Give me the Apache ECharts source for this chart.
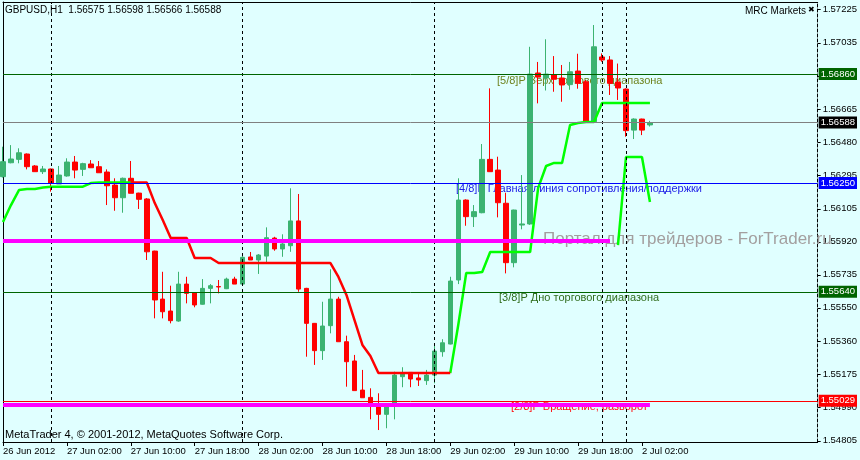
<!DOCTYPE html>
<html>
<head>
<meta charset="utf-8">
<script src="https://cdn.jsdelivr.net/npm/echarts@6/dist/echarts.min.js"></script>
<style>
  html, body { margin: 0; padding: 0; background: #e0ffff; }
  #chart { width: 860px; height: 460px; }
</style>
</head>
<body>
<div id="chart"></div>
<script>
// GBPUSD H1, 26 Jun 2012 18:00 .. 2 Jul 2012 03:00 (82 bars)
const opens = [
  1.56285, 1.56363, 1.56382, 1.56412, 1.56345, 1.56313, 1.56328, 1.56244, 1.56289, 1.56367,
  1.56326, 1.56356, 1.56341, 1.56311, 1.56238, 1.56167, 1.56276, 1.56193, 1.56160, 1.55868,
  1.55599, 1.55532, 1.55476, 1.55683, 1.55635, 1.55570, 1.55659, 1.55669, 1.55657, 1.55711,
  1.55683, 1.55835, 1.55818, 1.55840, 1.55941, 1.55880, 1.55898, 1.56037, 1.55659, 1.55463,
  1.55310, 1.55450, 1.55599, 1.55360, 1.55252, 1.55089, 1.55048, 1.55005, 1.54953, 1.55001,
  1.55164, 1.55188, 1.55157, 1.55142, 1.55173, 1.55304, 1.55347, 1.55706, 1.56154, 1.56061,
  1.56083, 1.56382, 1.56322, 1.56136, 1.55803, 1.56014, 1.56020, 1.56866, 1.56838, 1.56855,
  1.56838, 1.56801, 1.56877, 1.56817, 1.56593, 1.56956, 1.56939, 1.56815, 1.56776, 1.56546,
  1.56608, 1.56575
];
const closes = [
  1.56369, 1.56384, 1.56419, 1.56341, 1.56313, 1.56328, 1.56248, 1.56294, 1.56367, 1.56322,
  1.56358, 1.56335, 1.56307, 1.56234, 1.56167, 1.56276, 1.56192, 1.56158, 1.55864, 1.55594,
  1.55528, 1.55478, 1.55683, 1.55631, 1.55566, 1.55659, 1.55674, 1.55667, 1.55711, 1.55683,
  1.55833, 1.55818, 1.55846, 1.55943, 1.55880, 1.55908, 1.56037, 1.55655, 1.55463, 1.55310,
  1.55448, 1.55599, 1.55360, 1.55248, 1.55086, 1.55046, 1.55001, 1.54953, 1.55001, 1.55173,
  1.55179, 1.55151, 1.55146, 1.55173, 1.55308, 1.55354, 1.55700, 1.56154, 1.56061, 1.56089,
  1.56382, 1.56313, 1.56139, 1.55803, 1.56098, 1.56020, 1.56860, 1.56843, 1.56860, 1.56831,
  1.56799, 1.56873, 1.56808, 1.56593, 1.57013, 1.56939, 1.56808, 1.56782, 1.56543, 1.56608,
  1.56546, 1.56588
];
const lows = [
  1.56280, 1.56360, 1.56360, 1.56326, 1.56313, 1.56300, 1.56201, 1.56244, 1.56285, 1.56276,
  1.56289, 1.56335, 1.56307, 1.56126, 1.56094, 1.56083, 1.56192, 1.56104, 1.55818, 1.55491,
  1.55491, 1.55463, 1.55472, 1.55575, 1.55553, 1.55568, 1.55575, 1.55631, 1.55655, 1.55683,
  1.55680, 1.55818, 1.55740, 1.55803, 1.55870, 1.55836, 1.55864, 1.55640, 1.55276, 1.55230,
  1.55258, 1.55407, 1.55360, 1.55108, 1.55086, 1.55046, 1.54925, 1.54865, 1.54875, 1.54925,
  1.55105, 1.55105, 1.55112, 1.55118, 1.55127, 1.55276, 1.55345, 1.55683, 1.56010, 1.56003,
  1.56080, 1.56313, 1.56057, 1.55743, 1.55777, 1.55990, 1.56015, 1.56696, 1.56768, 1.56761,
  1.56705, 1.56772, 1.56778, 1.56590, 1.56590, 1.56929, 1.56743, 1.56715, 1.56509, 1.56496,
  1.56518, 1.56566
];
const highs = [
  1.56453, 1.56462, 1.56444, 1.56415, 1.56350, 1.56345, 1.56330, 1.56345, 1.56388, 1.56401,
  1.56363, 1.56378, 1.56373, 1.56326, 1.56276, 1.56280, 1.56373, 1.56195, 1.56165, 1.55870,
  1.55752, 1.55674, 1.55752, 1.55724, 1.55638, 1.55711, 1.55683, 1.55706, 1.55719, 1.55724,
  1.55856, 1.55863, 1.55851, 1.56001, 1.55948, 1.55962, 1.56220, 1.56188, 1.55662, 1.55465,
  1.55584, 1.55766, 1.55612, 1.55394, 1.55286, 1.55202, 1.55099, 1.55071, 1.55005, 1.55192,
  1.55217, 1.55190, 1.55188, 1.55202, 1.55351, 1.55374, 1.55724, 1.56276, 1.56158, 1.56126,
  1.56468, 1.56780, 1.56397, 1.56195, 1.56100, 1.56294, 1.57013, 1.56928, 1.57055, 1.56961,
  1.56911, 1.56928, 1.56974, 1.56827, 1.57135, 1.56976, 1.56961, 1.56919, 1.56780, 1.56612,
  1.56610, 1.56598
];

// trailing indicator: green (bars 0..16), red (16..56), green (56..81), second green (77..81)
const greenHead = [
  1.56031, 1.56126, 1.56210, 1.56216, 1.56216, 1.56224, 1.56229, 1.56229, 1.56229, 1.56229,
  1.56229, 1.56249, 1.56252, 1.56252, 1.56252, 1.56252, 1.56252
];
const redTrail = [
  1.56252, 1.56252, 1.56252, 1.56137, 1.56042, 1.55941, 1.55941, 1.55941, 1.55829, 1.55829,
  1.55829, 1.55801, 1.55801, 1.55801, 1.55801, 1.55801, 1.55801, 1.55801, 1.55801, 1.55801,
  1.55801, 1.55801, 1.55801, 1.55801, 1.55801, 1.55801, 1.55723, 1.55622, 1.55482, 1.55342,
  1.55280, 1.55185, 1.55185, 1.55185, 1.55185, 1.55185, 1.55185, 1.55185, 1.55185, 1.55185,
  1.55185
];
const greenTail = [
  1.55185, 1.55454, 1.55745, 1.55745, 1.55751, 1.55863, 1.55863, 1.55863, 1.55863, 1.55863,
  1.55863, 1.56221, 1.56345, 1.56362, 1.56362, 1.56575, 1.56586, 1.56591, 1.56591, 1.56698,
  1.56698, 1.56698, 1.56698, 1.56698, 1.56698, 1.56698
];
const greenLow = [1.55902, 1.56395, 1.56395, 1.56395, 1.56143];
const redStart = 16, greenTailStart = 56, greenLowStart = 77;

// Murrey levels and other horizontal lines
const mmLevels = [1.56860, 1.56250, 1.55640, 1.55029];
const mmNames = [
  '[5/8]P Верх торгового диапазона',
  '[4/8]P Главная линия сопротивления/поддержки',
  '[3/8]P Дно торгового диапазона',
  '[2/8]P Вращение, разворот'
];
const bidPrice = 1.56588;
const magentaLevels = [1.55928, 1.55009];
const magentaEndBar = [76, 81];
const separatorBars = [6, 30, 54, 75, 78];

// axis labels
const priceTicks = [1.57225, 1.57035, 1.56850, 1.56665, 1.56480, 1.56295, 1.56105,
  1.55920, 1.55735, 1.55550, 1.55360, 1.55175, 1.54990, 1.54805];
const timeLabels = ['26 Jun 2012', '27 Jun 02:00', '27 Jun 10:00', '27 Jun 18:00',
  '28 Jun 02:00', '28 Jun 10:00', '28 Jun 18:00', '29 Jun 02:00', '29 Jun 10:00',
  '29 Jun 18:00', '2 Jul 02:00'];
const LABEL_STEP = 8;
const SLOTS = 103; // bars plus empty space on the right

const FONT = '"Liberation Sans", Arial, sans-serif';
const Y_MIN = 1.54798, Y_MAX = 1.57264;

const cats = Array.from({ length: SLOTS }, (_, i) => String(i));
function place(start, vals) {
  const a = new Array(SLOTS).fill(null);
  vals.forEach((v, k) => { a[start + k] = v; });
  return a;
}
const greenMain = place(0, greenHead);
greenTail.forEach((v, k) => { greenMain[greenTailStart + k] = v; });

const tagColors = ['#006400', '#0000ff', '#006400', '#ff0000'];
const lineColors = ['#006400', '#0000ff', '#006400', '#ff0000'];
const textColors = ['#6f8420', '#2020e8', '#2f6c1c', '#ff1010'];
const textX = [497, 456, 499, 511];

function tag(v, bg) {
  return {
    show: true, position: 'end', distance: 1,
    formatter: () => v.toFixed(5),
    color: '#fff', backgroundColor: bg,
    padding: [1, 2, 1, 2], fontSize: 9.5, fontFamily: FONT
  };
}
function hLine(v, color, width, endBar, label) {
  return [
    { coord: [0, v], lineStyle: { color: color, width: width, type: 'solid' }, label: label || { show: false } },
    { coord: [endBar, v] }
  ];
}

const markData = [];
separatorBars.forEach(b => markData.push([
  { coord: [b, Y_MIN], lineStyle: { color: '#000', type: [3, 3], width: 1 }, label: { show: false } },
  { coord: [b, Y_MAX] }
]));
magentaLevels.forEach((v, k) => markData.push(hLine(v, '#ff00ff', 4, magentaEndBar[k])));
mmLevels.forEach((v, k) => markData.push(hLine(v, lineColors[k], 1, SLOTS - 1, tag(v, tagColors[k]))));
markData.push(hLine(bidPrice, '#808080', 1, SLOTS - 1, tag(bidPrice, '#000')));

const chart = echarts.init(document.getElementById('chart'), null, { renderer: 'canvas' });

const option = {
  backgroundColor: '#e0ffff',
  animation: false,
  grid: { left: 3, right: 41, top: 2, bottom: 18 },
  xAxis: [
    {
      type: 'category', data: cats, boundaryGap: false,
      axisLine: { lineStyle: { color: '#000', width: 1 } },
      axisTick: {
        interval: i => i % LABEL_STEP === 0 && i / LABEL_STEP < timeLabels.length,
        length: 4, lineStyle: { color: '#000' }
      },
      axisLabel: {
        interval: i => i % LABEL_STEP === 0 && i / LABEL_STEP < timeLabels.length,
        formatter: (v, i) => timeLabels[i / LABEL_STEP] || '',
        align: 'left', margin: 4, color: '#000', fontSize: 9.5, fontFamily: FONT
      },
      splitLine: { show: false }
    },
    {
      type: 'category', data: cats, boundaryGap: false, position: 'top',
      axisLine: { lineStyle: { color: '#000', width: 1 } },
      axisTick: { show: false }, axisLabel: { show: false }, splitLine: { show: false }
    }
  ],
  yAxis: [
    {
      type: 'value', position: 'right', min: Y_MIN, max: Y_MAX,
      axisLine: { show: true, lineStyle: { color: '#000', type: [3, 2], width: 1 } },
      axisTick: { show: true, customValues: priceTicks, length: 3, lineStyle: { color: '#000' } },
      axisLabel: {
        customValues: priceTicks, formatter: v => v.toFixed(5),
        margin: 5, color: '#000', fontSize: 9.5, fontFamily: FONT
      },
      splitLine: { show: false }
    },
    {
      type: 'value', position: 'left', min: Y_MIN, max: Y_MAX,
      axisLine: { show: true, lineStyle: { color: '#000', width: 1 } },
      axisTick: { show: false }, axisLabel: { show: false }, splitLine: { show: false }
    }
  ],
  series: [
    {
      name: 'levels', type: 'line', z: 1, silent: true,
      data: cats.map(() => null), symbol: 'none',
      markLine: { silent: true, symbol: ['none', 'none'], animation: false, data: markData }
    },
    {
      name: 'GBPUSD', type: 'candlestick', z: 3, barWidth: 5, silent: true,
      data: opens.map((o, i) => [o, closes[i], lows[i], highs[i]]),
      itemStyle: {
        color: '#3cb371', color0: '#ff0000',
        borderColor: '#3cb371', borderColor0: '#ff0000', borderWidth: 1
      }
    },
    {
      name: 'trend up', type: 'line', z: 4, silent: true, symbol: 'none',
      data: greenMain, lineStyle: { color: '#00ff00', width: 2.5 }
    },
    {
      name: 'trend down', type: 'line', z: 4, silent: true, symbol: 'none',
      data: place(redStart, redTrail), lineStyle: { color: '#ff0000', width: 2.5 }
    },
    {
      name: 'trend up 2', type: 'line', z: 4, silent: true, symbol: 'none',
      data: place(greenLowStart, greenLow), lineStyle: { color: '#00ff00', width: 2.5 }
    }
  ]
};
chart.setOption(option);

// texts anchored to the level prices
const graphic = [
  { type: 'text', left: 5, top: 5, z: 10,
    style: { text: 'GBPUSD,H1  1.56575 1.56598 1.56566 1.56588', fill: '#000', font: '10px ' + FONT } },
  { type: 'text', left: 745, top: 6, z: 10,
    style: { text: 'MRC Markets', fill: '#000', font: '10px ' + FONT } },
  { type: 'text', left: 808, top: 6, z: 10,
    style: { text: '✖', fill: '#000', font: '8px "DejaVu Sans"' } },
  { type: 'text', left: 5, top: 429, z: 10,
    style: { text: 'MetaTrader 4, © 2001-2012, MetaQuotes Software Corp.', fill: '#000', font: '11px ' + FONT } },
  { type: 'text', left: 543, z: 2,
    top: chart.convertToPixel({ yAxisIndex: 0 }, magentaLevels[0]) - 10,
    style: { text: 'Портал для трейдеров - ForTrader.ru', fill: '#a39f9f', font: '17px ' + FONT } }
];
mmLevels.forEach((v, k) => graphic.push({
  type: 'text', left: textX[k], z: 0,
  top: chart.convertToPixel({ yAxisIndex: 0 }, v) + 1,
  style: { text: mmNames[k], fill: textColors[k], font: '11px ' + FONT }
}));
chart.setOption({ graphic: graphic });
</script>
</body>
</html>
